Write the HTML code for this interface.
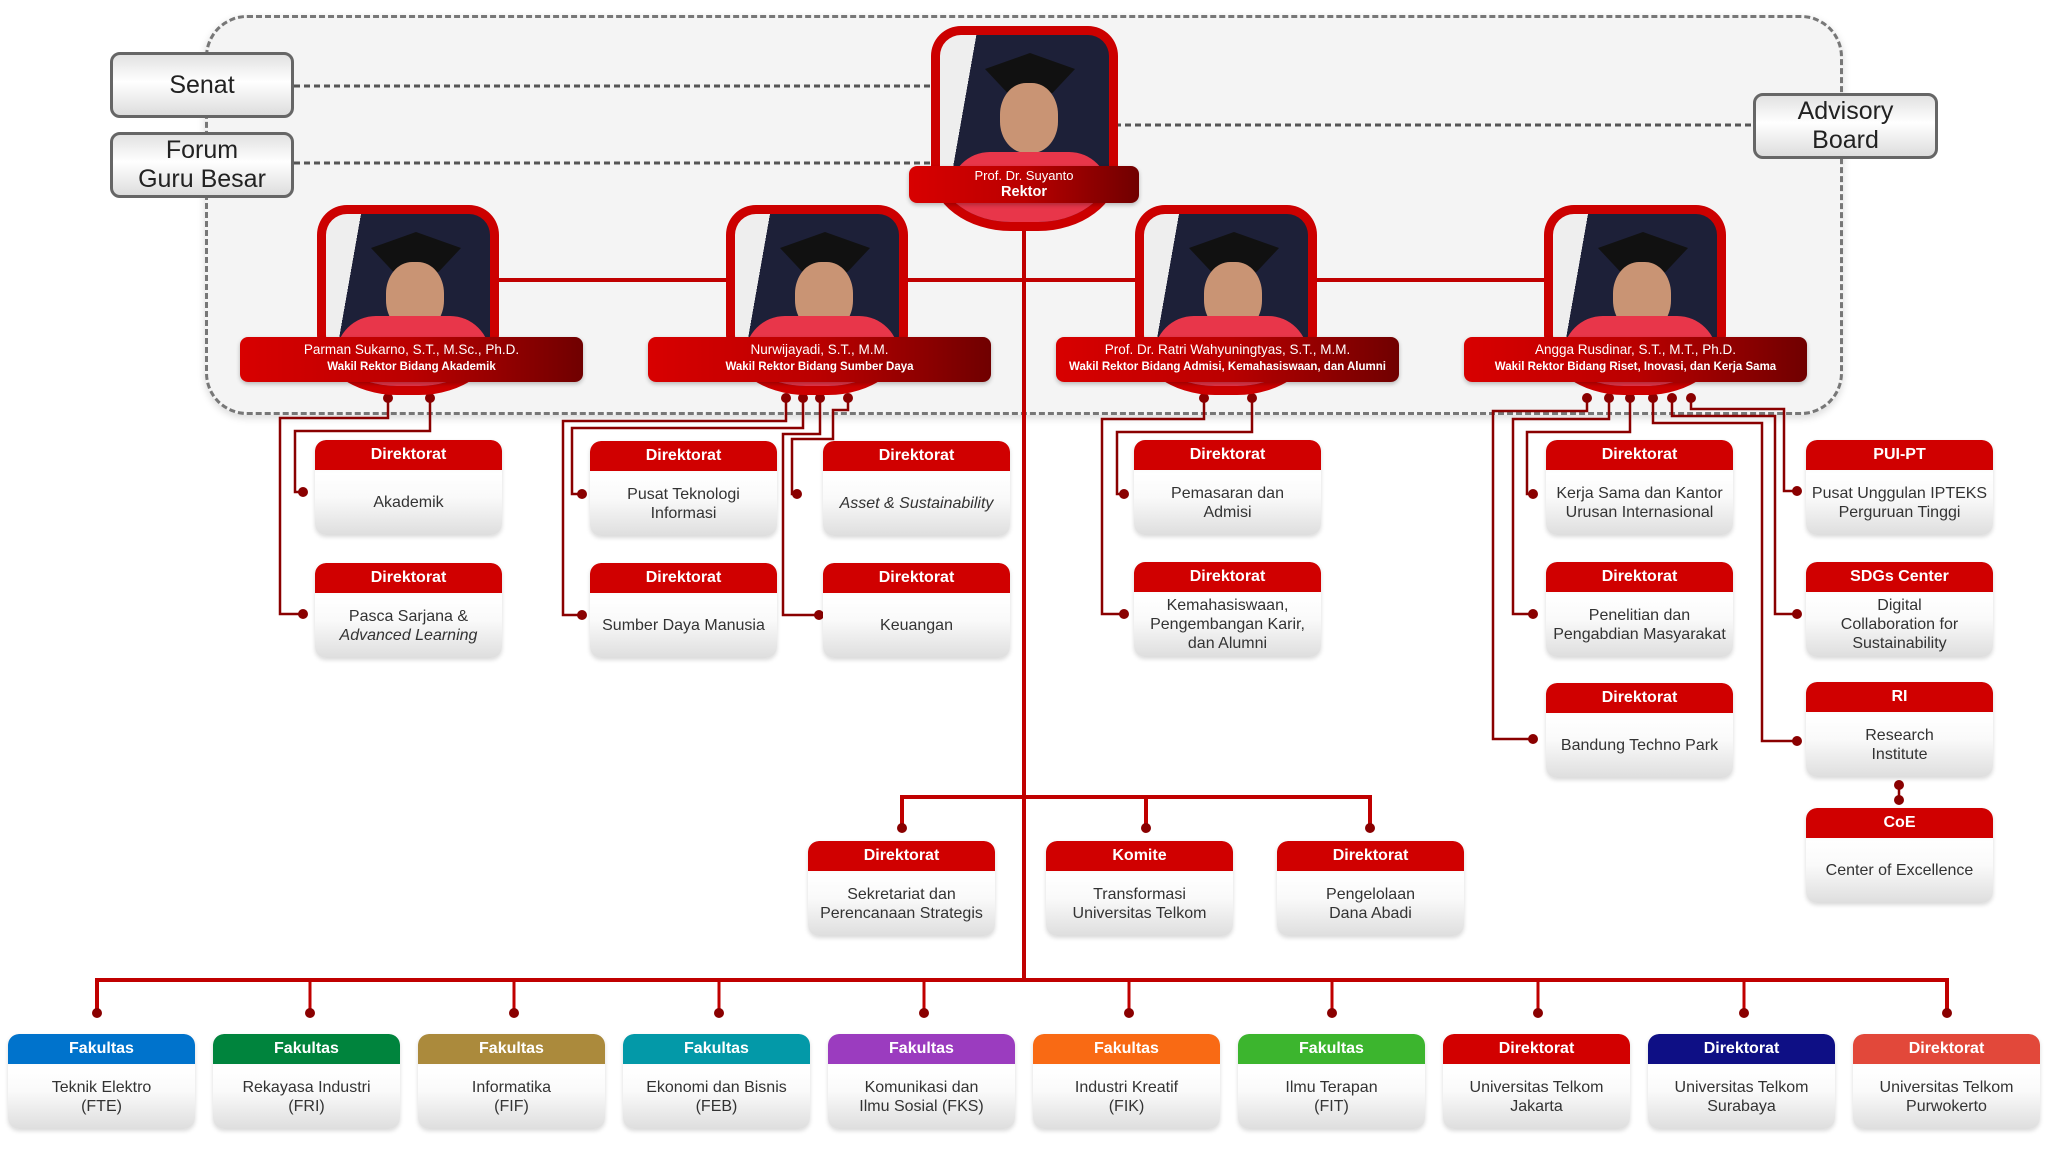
<!DOCTYPE html>
<html><head><meta charset="utf-8"><style>
*{box-sizing:border-box;margin:0;padding:0}
body{width:2048px;height:1164px;background:#fff;position:relative;overflow:hidden;font-family:"Liberation Sans",sans-serif}
.abs{position:absolute}
.cont{left:205px;top:15px;width:1638px;height:400px;border:3px dashed #777;border-radius:42px;background:#f4f4f4;box-shadow:0 3px 8px rgba(0,0,0,.15)}
.gbox{position:absolute;border:3px solid #666;border-radius:10px;background:linear-gradient(#e2e2e2,#fff 45%,#ddd);display:flex;align-items:center;justify-content:center;text-align:center;font-size:25px;line-height:29px;color:#222}
.card{position:absolute;width:187px;height:95px;border-radius:11px;box-shadow:0 2px 4px rgba(0,0,0,.15);overflow:hidden;background:linear-gradient(#dcdcdc,#fff 35%,#fafafa 60%,#dedede)}
.card .h{height:30px;background:#d00000;color:#fff;font-weight:bold;font-size:16px;line-height:30px;text-align:center;border-radius:11px 11px 0 0}
.card .b{height:65px;display:flex;align-items:center;justify-content:center;text-align:center;font-size:16px;line-height:19px;color:#333;padding:0 3px}
.fr{position:absolute;width:182px;height:190px;border:9px solid #cc0000;border-radius:30px 30px 80px 80px/30px 30px 60px 60px;overflow:hidden;background:linear-gradient(100deg,#eee 0 18%,#1d2038 18%)}
.fr .robe{position:absolute;left:10px;right:0;bottom:0;height:70px;background:#e8364a;border-radius:40px 40px 0 0}
.fr .head{position:absolute;left:60px;top:48px;width:58px;height:70px;border-radius:45%;background:#c99474}
.fr .cap{position:absolute;left:45px;top:18px;width:90px;height:40px;background:#111;clip-path:polygon(50% 0,100% 40%,75% 100%,25% 100%,0 40%)}
.lab{position:absolute;height:45px;border-radius:8px;background:linear-gradient(90deg,#d80000,#ba0000 50%,#700000);color:#fff;text-align:center;box-shadow:0 2px 4px rgba(0,0,0,.25)}
.lab .n{font-size:13.5px;margin-top:5px}
.lab .t{font-size:11.5px;font-weight:bold;margin-top:4px}
</style></head><body>
<div class="abs cont"></div>

<svg class="abs" style="left:0;top:0" width="2048" height="1164">
<g stroke="#555" stroke-width="3" stroke-dasharray="6 4" fill="none">
<line x1="294" y1="86" x2="935" y2="86"/><line x1="294" y1="163" x2="935" y2="163"/><line x1="1115" y1="125" x2="1753" y2="125"/>
</g>
<g stroke="#c00000" stroke-width="4" fill="none">
<line x1="498" y1="280" x2="1560" y2="280"/>
<line x1="1024" y1="225" x2="1024" y2="982"/>
<polyline points="97,1013 97,980 1947,980 1947,1013"/>
<polyline points="902,828 902,797 1370,797 1370,828"/>
<line x1="1146" y1="797" x2="1146" y2="828"/>
</g>
<g stroke="#c00000" stroke-width="3" fill="none">
<line x1="310" y1="980" x2="310" y2="1013"/><line x1="514" y1="980" x2="514" y2="1013"/><line x1="719" y1="980" x2="719" y2="1013"/><line x1="924" y1="980" x2="924" y2="1013"/><line x1="1129" y1="980" x2="1129" y2="1013"/><line x1="1332" y1="980" x2="1332" y2="1013"/><line x1="1538" y1="980" x2="1538" y2="1013"/><line x1="1744" y1="980" x2="1744" y2="1013"/>
</g>
<g stroke="#8a0000" stroke-width="2.5" fill="none">
<polyline points="388,398 388,418 280,418 280,614 303,614"/>
<polyline points="430,398 430,431 295,431 295,492 303,492"/>
<polyline points="786,398 786,421 563,421 563,615 582,615"/>
<polyline points="803,398 803,428 572,428 572,494 582,494"/>
<polyline points="820,398 820,434 783,434 783,615 819,615"/>
<polyline points="848,398 848,410 833,410 833,439 792,439 792,494 797,494"/>
<polyline points="1204,398 1204,419 1102,419 1102,614 1124,614"/>
<polyline points="1252,398 1252,432 1117,432 1117,494 1124,494"/>
<polyline points="1587,398 1587,411 1493,411 1493,739 1533,739"/>
<polyline points="1609,398 1609,419 1513,419 1513,614 1533,614"/>
<polyline points="1630,398 1630,432 1527,432 1527,494 1533,494"/>
<polyline points="1653,398 1653,423 1762,423 1762,741 1797,741"/>
<polyline points="1672,398 1672,416 1775,416 1775,614 1797,614"/>
<polyline points="1691,398 1691,409 1784,409 1784,491 1797,491"/>
<line x1="1899" y1="785" x2="1899" y2="800"/>
</g>
<g fill="#8a0000">
<circle cx="388" cy="398" r="5"/><circle cx="430" cy="398" r="5"/><circle cx="303" cy="614" r="5"/><circle cx="303" cy="492" r="5"/>
<circle cx="786" cy="398" r="5"/><circle cx="803" cy="398" r="5"/><circle cx="820" cy="398" r="5"/><circle cx="848" cy="398" r="5"/>
<circle cx="582" cy="615" r="5"/><circle cx="582" cy="494" r="5"/><circle cx="819" cy="615" r="5"/><circle cx="797" cy="494" r="5"/>
<circle cx="1204" cy="398" r="5"/><circle cx="1252" cy="398" r="5"/><circle cx="1124" cy="614" r="5"/><circle cx="1124" cy="494" r="5"/>
<circle cx="1587" cy="398" r="5"/><circle cx="1609" cy="398" r="5"/><circle cx="1630" cy="398" r="5"/><circle cx="1653" cy="398" r="5"/><circle cx="1672" cy="398" r="5"/><circle cx="1691" cy="398" r="5"/>
<circle cx="1533" cy="739" r="5"/><circle cx="1533" cy="614" r="5"/><circle cx="1533" cy="494" r="5"/><circle cx="1797" cy="741" r="5"/><circle cx="1797" cy="614" r="5"/><circle cx="1797" cy="491" r="5"/>
<circle cx="1899" cy="785" r="5"/><circle cx="1899" cy="800" r="5"/>
<circle cx="902" cy="828" r="5"/><circle cx="1146" cy="828" r="5"/><circle cx="1370" cy="828" r="5"/>
<circle cx="97" cy="1013" r="5"/><circle cx="310" cy="1013" r="5"/><circle cx="514" cy="1013" r="5"/><circle cx="719" cy="1013" r="5"/><circle cx="924" cy="1013" r="5"/><circle cx="1129" cy="1013" r="5"/><circle cx="1332" cy="1013" r="5"/><circle cx="1538" cy="1013" r="5"/><circle cx="1744" cy="1013" r="5"/><circle cx="1947" cy="1013" r="5"/>
</g>
</svg>

<div class="gbox" style="left:110px;top:52px;width:184px;height:66px">Senat</div>
<div class="gbox" style="left:110px;top:132px;width:184px;height:66px"><span>Forum<br>Guru Besar</span></div>
<div class="gbox" style="left:1753px;top:93px;width:185px;height:66px"><span>Advisory<br>Board</span></div>

<div class="fr" style="left:931px;top:26px;width:187px;height:205px"><div class="cap"></div><div class="head"></div><div class="robe"></div></div>
<div class="lab" style="left:909px;top:166px;width:230px;height:37px"><div class="n" style="margin-top:2px;font-size:13px">Prof. Dr. Suyanto</div><div class="t" style="font-size:14.5px;margin-top:1px">Rektor</div></div>

<div class="fr" style="left:317px;top:205px"><div class="cap"></div><div class="head"></div><div class="robe"></div></div>
<div class="lab" style="left:240px;top:337px;width:343px"><div class="n">Parman Sukarno, S.T., M.Sc., Ph.D.</div><div class="t">Wakil Rektor Bidang Akademik</div></div>
<div class="fr" style="left:726px;top:205px"><div class="cap"></div><div class="head"></div><div class="robe"></div></div>
<div class="lab" style="left:648px;top:337px;width:343px"><div class="n">Nurwijayadi, S.T., M.M.</div><div class="t">Wakil Rektor Bidang Sumber Daya</div></div>
<div class="fr" style="left:1135px;top:205px"><div class="cap"></div><div class="head"></div><div class="robe"></div></div>
<div class="lab" style="left:1056px;top:337px;width:343px"><div class="n">Prof. Dr. Ratri Wahyuningtyas, S.T., M.M.</div><div class="t">Wakil Rektor Bidang Admisi, Kemahasiswaan, dan Alumni</div></div>
<div class="fr" style="left:1544px;top:205px"><div class="cap"></div><div class="head"></div><div class="robe"></div></div>
<div class="lab" style="left:1464px;top:337px;width:343px"><div class="n">Angga Rusdinar, S.T., M.T., Ph.D.</div><div class="t">Wakil Rektor Bidang Riset, Inovasi, dan Kerja Sama</div></div>

<div class="card" style="left:315px;top:440px"><div class="h">Direktorat</div><div class="b"><span>Akademik</span></div></div>
<div class="card" style="left:315px;top:563px"><div class="h">Direktorat</div><div class="b"><span>Pasca Sarjana &amp;<br><i>Advanced Learning</i></span></div></div>
<div class="card" style="left:590px;top:441px"><div class="h">Direktorat</div><div class="b"><span>Pusat Teknologi<br>Informasi</span></div></div>
<div class="card" style="left:590px;top:563px"><div class="h">Direktorat</div><div class="b"><span>Sumber Daya Manusia</span></div></div>
<div class="card" style="left:823px;top:441px"><div class="h">Direktorat</div><div class="b"><span><i>Asset &amp; Sustainability</i></span></div></div>
<div class="card" style="left:823px;top:563px"><div class="h">Direktorat</div><div class="b"><span>Keuangan</span></div></div>
<div class="card" style="left:1134px;top:440px"><div class="h">Direktorat</div><div class="b"><span>Pemasaran dan<br>Admisi</span></div></div>
<div class="card" style="left:1134px;top:562px"><div class="h">Direktorat</div><div class="b"><span>Kemahasiswaan,<br>Pengembangan Karir,<br>dan Alumni</span></div></div>
<div class="card" style="left:1546px;top:440px"><div class="h">Direktorat</div><div class="b"><span>Kerja Sama dan Kantor<br>Urusan Internasional</span></div></div>
<div class="card" style="left:1546px;top:562px"><div class="h">Direktorat</div><div class="b"><span>Penelitian dan<br>Pengabdian Masyarakat</span></div></div>
<div class="card" style="left:1546px;top:683px"><div class="h">Direktorat</div><div class="b"><span>Bandung Techno Park</span></div></div>
<div class="card" style="left:1806px;top:440px"><div class="h">PUI-PT</div><div class="b"><span>Pusat Unggulan IPTEKS<br>Perguruan Tinggi</span></div></div>
<div class="card" style="left:1806px;top:562px"><div class="h">SDGs Center</div><div class="b"><span>Digital<br>Collaboration for<br>Sustainability</span></div></div>
<div class="card" style="left:1806px;top:682px"><div class="h">RI</div><div class="b"><span>Research<br>Institute</span></div></div>
<div class="card" style="left:1806px;top:808px"><div class="h">CoE</div><div class="b"><span>Center of Excellence</span></div></div>

<div class="card" style="left:808px;top:841px"><div class="h">Direktorat</div><div class="b"><span>Sekretariat dan<br>Perencanaan Strategis</span></div></div>
<div class="card" style="left:1046px;top:841px"><div class="h">Komite</div><div class="b"><span>Transformasi<br>Universitas Telkom</span></div></div>
<div class="card" style="left:1277px;top:841px"><div class="h">Direktorat</div><div class="b"><span>Pengelolaan<br>Dana Abadi</span></div></div>

<div class="card" style="left:8px;top:1034px"><div class="h" style="background:#0073cc">Fakultas</div><div class="b"><span>Teknik Elektro<br>(FTE)</span></div></div>
<div class="card" style="left:213px;top:1034px"><div class="h" style="background:#00843d">Fakultas</div><div class="b"><span>Rekayasa Industri<br>(FRI)</span></div></div>
<div class="card" style="left:418px;top:1034px"><div class="h" style="background:#ab8a3c">Fakultas</div><div class="b"><span>Informatika<br>(FIF)</span></div></div>
<div class="card" style="left:623px;top:1034px"><div class="h" style="background:#0399a8">Fakultas</div><div class="b"><span>Ekonomi dan Bisnis<br>(FEB)</span></div></div>
<div class="card" style="left:828px;top:1034px"><div class="h" style="background:#9b3cbf">Fakultas</div><div class="b"><span>Komunikasi dan<br>Ilmu Sosial (FKS)</span></div></div>
<div class="card" style="left:1033px;top:1034px"><div class="h" style="background:#f96a14">Fakultas</div><div class="b"><span>Industri Kreatif<br>(FIK)</span></div></div>
<div class="card" style="left:1238px;top:1034px"><div class="h" style="background:#3cb52e">Fakultas</div><div class="b"><span>Ilmu Terapan<br>(FIT)</span></div></div>
<div class="card" style="left:1443px;top:1034px"><div class="h" style="background:#d20000">Direktorat</div><div class="b"><span>Universitas Telkom<br>Jakarta</span></div></div>
<div class="card" style="left:1648px;top:1034px"><div class="h" style="background:#0e0f85">Direktorat</div><div class="b"><span>Universitas Telkom<br>Surabaya</span></div></div>
<div class="card" style="left:1853px;top:1034px"><div class="h" style="background:#e2483a">Direktorat</div><div class="b"><span>Universitas Telkom<br>Purwokerto</span></div></div>
</body></html>
